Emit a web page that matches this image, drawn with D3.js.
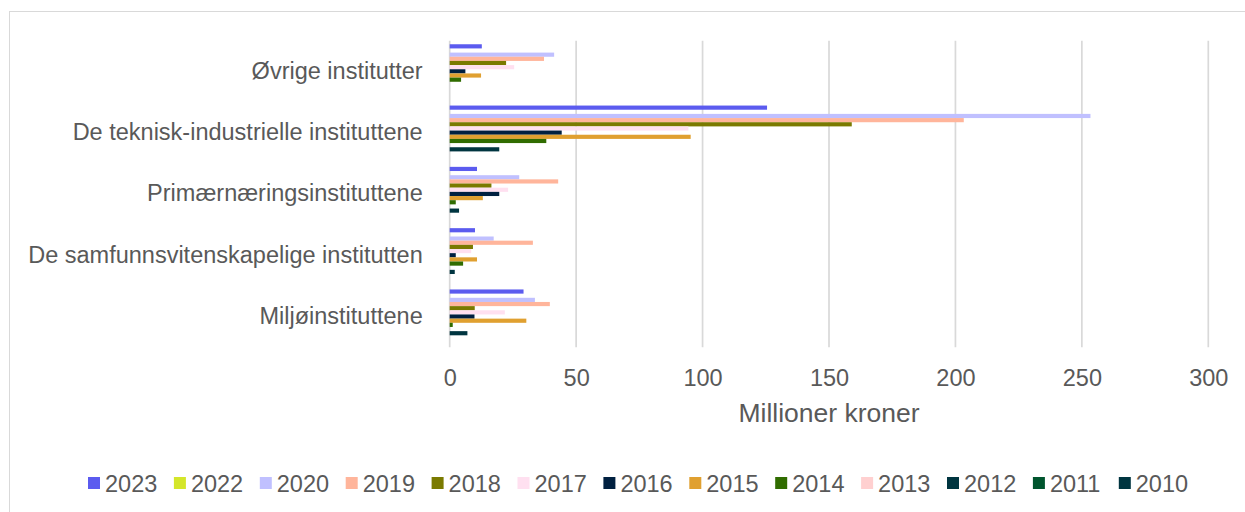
<!DOCTYPE html>
<html>
<head>
<meta charset="utf-8">
<script src="https://cdn.jsdelivr.net/npm/d3@7"></script>
<style>
  body { margin: 0; background: #fff; }
  text { font-family: "Liberation Sans", Arial, sans-serif; fill: #595959; }
</style>
</head>
<body>
<svg></svg>
<script>
const svgWidth = 1245
const svgHeight = 512
const margins = {top: 40.7, bottom: 164.8, left: 449.7, right: 36.7}
const plotWidth = svgWidth - margins.left - margins.right
const plotHeight = svgHeight - margins.top - margins.bottom

const categories = ["Øvrige institutter", "De teknisk-industrielle instituttene", "Primærnæringsinstituttene", "De samfunnsvitenskapelige institutten", "Miljøinstituttene"]
const years = ["2023", "2022", "2020", "2019", "2018", "2017", "2016", "2015", "2014", "2013", "2012", "2011", "2010"]
const colors = ["#5b5bef", "#d4e62a", "#c0c0ff", "#ffb59b", "#7a7a00", "#ffe0f0", "#002040", "#e0a030", "#306c00", "#ffd0d0", "#003540", "#00552e", "#003540"]

// one array per year, values in category order (million NOK)
const v2023 = [12.7, 125.5, 10.8, 10.0, 29.2]
const v2022 = [0, 0, 0, 0, 0]
const v2020 = [41.3, 253.4, 27.5, 17.4, 33.7]
const v2019 = [37.3, 203.3, 42.9, 32.9, 39.6]
const v2018 = [22.3, 159.0, 16.5, 9.2, 9.9]
const v2017 = [25.5, 94.4, 23.1, 8.5, 21.8]
const v2016 = [6.2, 44.3, 19.6, 2.4, 9.8]
const v2015 = [12.4, 95.3, 13.1, 10.8, 30.3]
const v2014 = [4.5, 38.2, 2.4, 5.3, 1.2]
const v2013 = [0, 0, 0, 0, 0]
const v2012 = [0, 19.6, 3.7, 2.0, 7.0]
const v2011 = [0, 0, 0, 0, 0]
const v2010 = [0, 0, 0, 0, 0]
const seriesValues = [v2023, v2022, v2020, v2019, v2018, v2017, v2016, v2015, v2014, v2013, v2012, v2011, v2010]
const xTicks = [0, 50, 100, 150, 200, 250, 300]

const svg = d3.select("svg")
  .attr("width", svgWidth)
  .attr("height", svgHeight)

// chart frame
svg.append("rect")
  .attr("x", 9.5).attr("y", 11.5)
  .attr("width", 1260).attr("height", 520)
  .attr("fill", "none")
  .attr("stroke", "#d9d9d9")
  .attr("stroke-width", 1)

const xScale = d3.scaleLinear()
  .domain([0, 300])
  .range([margins.left, margins.left + plotWidth])

const yScale = d3.scaleBand()
  .domain(categories)
  .range([margins.top, margins.top + plotHeight])
  .paddingInner(0.116)
  .paddingOuter(0.058)

const ySub = d3.scaleBand()
  .domain(years)
  .range([0, yScale.bandwidth()])

// gridlines
svg.append("g")
  .selectAll("line")
  .data(xTicks)
  .enter()
  .append("line")
  .attr("x1", (d) => xScale(d))
  .attr("x2", (d) => xScale(d))
  .attr("y1", margins.top)
  .attr("y2", margins.top + plotHeight)
  .attr("stroke", "#d9d9d9")
  .attr("stroke-width", 1.7)

// bars
const groups = svg.append("g")
  .selectAll("g")
  .data(years)
  .enter()
  .append("g")
  .attr("fill", (d, i) => colors[i])

groups.selectAll("rect")
  .data((d, i) => seriesValues[i].map((v, j) => ({year: d, cat: categories[j], value: v})))
  .enter()
  .append("rect")
  .attr("x", xScale(0))
  .attr("y", (d) => yScale(d.cat) + ySub(d.year))
  .attr("width", (d) => xScale(d.value) - xScale(0))
  .attr("height", ySub.bandwidth())

// x axis tick labels
const xAxis = svg.append("g")
  .attr("transform", `translate(0,${margins.top + plotHeight})`)
  .call(d3.axisBottom(xScale).tickValues(xTicks).tickSize(0).tickPadding(22))
xAxis.select(".domain").remove()
xAxis.selectAll("text")
  .style("font-size", "23.5px")
  .attr("fill", "#595959")

// y axis category labels
const yAxis = svg.append("g")
  .attr("transform", `translate(${margins.left},0)`)
  .call(d3.axisLeft(yScale).tickSize(0).tickPadding(27))
yAxis.select(".domain").remove()
yAxis.selectAll("text")
  .style("font-size", "23.5px")
  .attr("fill", "#595959")

// axis title
svg.append("text")
  .attr("x", xScale(150))
  .attr("y", 421.5)
  .attr("text-anchor", "middle")
  .style("font-size", "26.5px")
  .text("Millioner kroner")

// legend
const legend = svg.append("g")
  .selectAll("g")
  .data(years)
  .enter()
  .append("g")
  .attr("transform", (d, i) => `translate(${88 + i * 85.9},483)`)

legend.append("rect")
  .attr("x", 0).attr("y", -6)
  .attr("width", 12).attr("height", 12)
  .attr("fill", (d, i) => colors[i])

legend.append("text")
  .attr("x", 17)
  .attr("y", 8.5)
  .style("font-size", "23.5px")
  .text((d) => d)
</script>
</body>
</html>
